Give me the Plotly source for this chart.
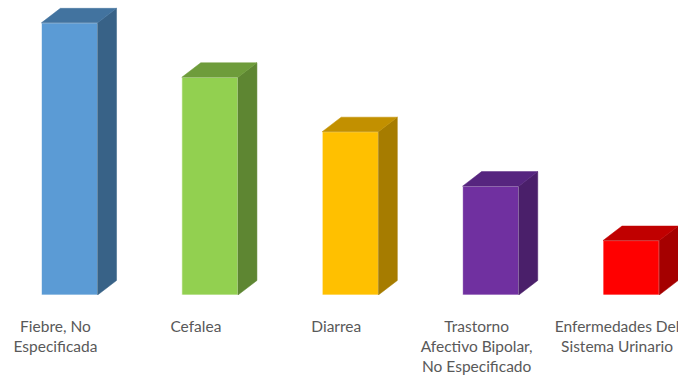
import plotly.graph_objects as go

# categories and values (bars are in ratio 5:4:3:2:1)
categories = ["Fiebre, No<br>Especificada", "Cefalea", "Diarrea",
              "Trastorno<br>Afectivo Bipolar,<br>No Especificado",
              "Enfermedades Del<br>Sistema Urinario"]
values = [5, 4, 3, 2, 1]

front_colors = ["#5B9BD5", "#92D050", "#FFC000", "#7030A0", "#FF0000"]
side_colors = ["#386287", "#5E8632", "#A67C00", "#4A1F6A", "#A50000"]
top_colors = ["#42739F", "#6E9C3B", "#C29000", "#56257F", "#C00000"]

bar_w = 0.4
dx, dy = 0.135, 0.267  # depth offset for the fake 3D look

xs = list(range(len(values)))

fig = go.Figure()
fig.add_trace(go.Bar(x=xs, y=values, width=bar_w,
                     marker=dict(color=front_colors,
                                 line=dict(color="rgba(255,255,255,0.7)", width=1)),
                     hoverinfo="skip", showlegend=False))

for i, v in enumerate(values):
    r = i + bar_w / 2
    l = i - bar_w / 2
    # side face
    fig.add_trace(go.Scatter(x=[r, r + dx, r + dx, r, r], y=[0, dy, v + dy, v, 0],
                             mode="lines", fill="toself", fillcolor=side_colors[i],
                             line=dict(color=side_colors[i], width=0.5),
                             hoverinfo="skip", showlegend=False))
    # top face
    fig.add_trace(go.Scatter(x=[l, l + dx, r + dx, r, l], y=[v, v + dy, v + dy, v, v],
                             mode="lines", fill="toself", fillcolor=top_colors[i],
                             line=dict(color=top_colors[i], width=0.5),
                             hoverinfo="skip", showlegend=False))

fig.update_layout(
    width=678, height=377,
    margin=dict(l=0, r=0, t=0, b=82),
    plot_bgcolor="white", paper_bgcolor="white",
    font=dict(family="Lato, Carlito, sans-serif", size=15.5, color="#595959"),
    xaxis=dict(range=[-0.495, 4.334], showgrid=False, zeroline=False, showline=False,
               tickmode="array", tickvals=[x - 0.1 for x in xs], ticktext=categories,
               ticks="", ticklabelstandoff=20, ticklabeloverflow="allow",
               automargin=False, fixedrange=True),
    yaxis=dict(range=[0, 5.42], showgrid=False, zeroline=False, showline=False,
               showticklabels=False, automargin=False, fixedrange=True),
)

# page body has an 8px default margin, drop it so the chart sits at 0,0
fig.write_html("out.html", post_script="document.body.style.margin='0';",
               config={"displayModeBar": False})
